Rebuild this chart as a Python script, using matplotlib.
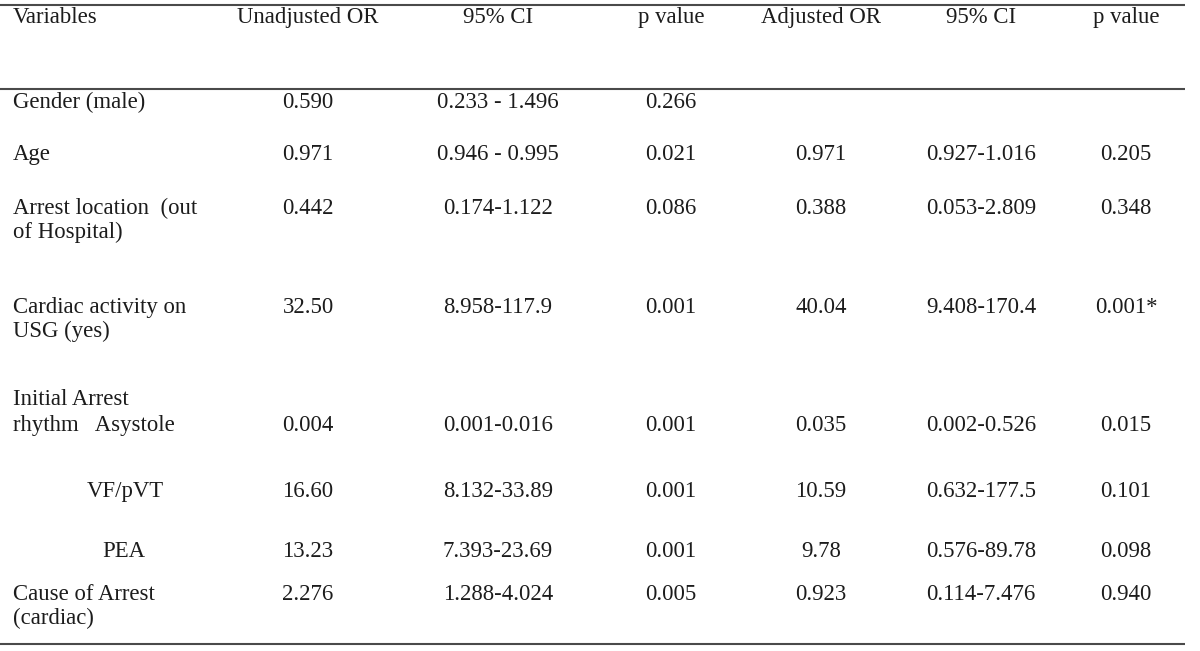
import matplotlib
matplotlib.use("Agg")
import matplotlib.pyplot as plt

# ---- data ----
headers = ["Variables", "Unadjusted OR", "95% CI", "p value", "Adjusted OR", "95% CI", "p value"]
variables = [
    ["Gender (male)"],
    ["Age"],
    ["Arrest location  (out", "of Hospital)"],
    ["Cardiac activity on", "USG (yes)"],
    ["Initial Arrest", "rhythm   Asystole"],
    ["VF/pVT"],
    ["PEA"],
    ["Cause of Arrest", "(cardiac)"],
]
unadj_or = ["0.590", "0.971", "0.442", "32.50", "0.004", "16.60", "13.23", "2.276"]
unadj_ci = ["0.233 - 1.496", "0.946 - 0.995", "0.174-1.122", "8.958-117.9",
            "0.001-0.016", "8.132-33.89", "7.393-23.69", "1.288-4.024"]
unadj_p = ["0.266", "0.021", "0.086", "0.001", "0.001", "0.001", "0.001", "0.005"]
adj_or = ["", "0.971", "0.388", "40.04", "0.035", "10.59", "9.78", "0.923"]
adj_ci = ["", "0.927-1.016", "0.053-2.809", "9.408-170.4", "0.002-0.526",
          "0.632-177.5", "0.576-89.78", "0.114-7.476"]
adj_p = ["", "0.205", "0.348", "0.001*", "0.015", "0.101", "0.098", "0.940"]

# ---- layout (pixel coordinates) ----
W, H = 1200, 651
col_x = [13, 308, 498, 671, 821, 981, 1126]
label_x = [13, 13, 13, 13, 13, 87, 102, 13]
header_base = 23
label_base = [108, 160, 214, 313, 405, 497, 557, 600]
second_line_base = [None, None, 238, 337, 431, None, None, 624]
value_base = [108, 160, 214, 313, 431, 497, 557, 600]
rule_y = [5, 89, 644]

plt.rcParams['font.family'] = ['Liberation Serif', 'DejaVu Serif']
fs = 16.4
tc = '#1c1c1c'

fig = plt.figure(figsize=(W / 100, H / 100), dpi=100)
ax = fig.add_axes([0, 0, 1, 1])
ax.set_xlim(0, W)
ax.set_ylim(H, 0)
ax.axis('off')

for y in rule_y:
    ax.plot([0, 1185], [y, y], color='#4a4a4a', lw=1.5, solid_capstyle='butt')

for i, h in enumerate(headers):
    ha = 'left' if i == 0 else 'center'
    ax.text(col_x[i], header_base, h, ha=ha, va='baseline', fontsize=fs, color=tc)

cols = [unadj_or, unadj_ci, unadj_p, adj_or, adj_ci, adj_p]
for r, lines in enumerate(variables):
    ax.text(label_x[r], label_base[r], lines[0], ha='left', va='baseline',
            fontsize=fs, color=tc)
    if len(lines) > 1:
        ax.text(13, second_line_base[r], lines[1], ha='left', va='baseline',
                fontsize=fs, color=tc)
    for c, arr in enumerate(cols):
        if arr[r]:
            ax.text(col_x[c + 1], value_base[r], arr[r], ha='center', va='baseline',
                    fontsize=fs, color=tc)

fig.savefig("out.png", dpi=100, facecolor='white')
